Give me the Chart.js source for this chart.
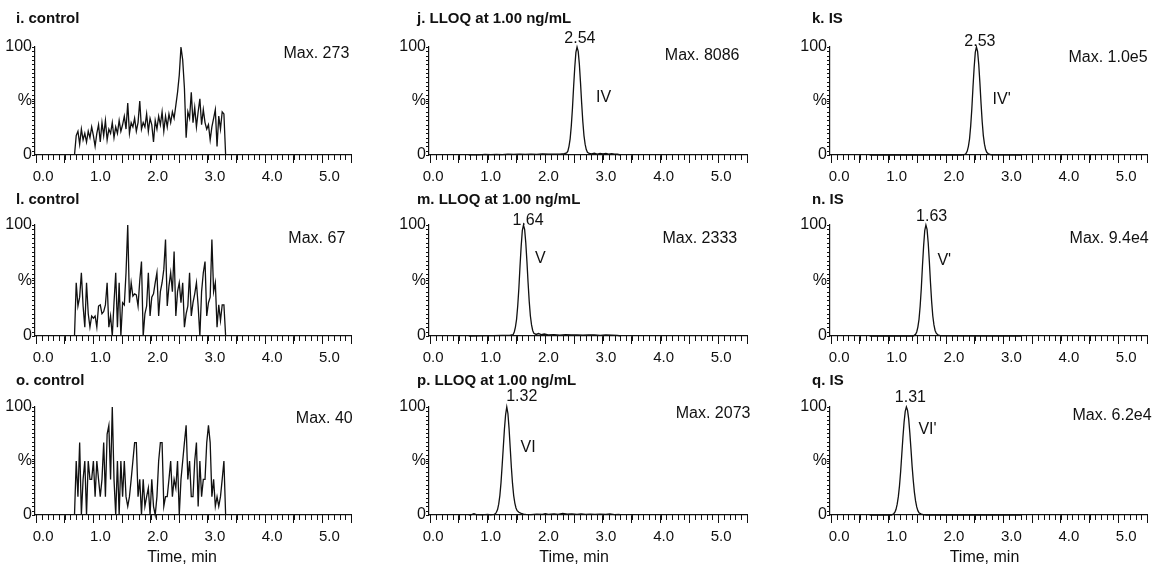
<!DOCTYPE html>
<html>
<head>
<meta charset="utf-8">
<script src="https://cdn.jsdelivr.net/npm/chart.js@4.4.1/dist/chart.umd.min.js"></script>
<style>
  html, body { margin: 0; padding: 0; background: #fff; }
  #wrap { position: relative; width: 1157px; height: 564px; overflow: hidden; background: #fff; }
  #wrap canvas { position: absolute; }
</style>
</head>
<body>
<div id="wrap"></div>
<script>
// --- axis ticks ---
const xMin = -0.02;
const xMax = 5.5;
const xMajorTicks = [0, 0.5, 1, 1.5, 2, 2.5, 3, 3.5, 4, 4.5, 5, 5.5];
const xLabelValues = [0, 1, 2, 3, 4, 5];
const xTickLabels = ["0.0", "1.0", "2.0", "3.0", "4.0", "5.0"];
const xMinorStep = 0.1;
const yTickValues = [0, 50, 100];
const yTickLabels = ["0", "%", "100"];
const yMinorStep = 4;

// --- control traces (sampled every noiseStep min from noiseStart) ---
const noiseStart = 0.67;
const noiseStep = 0.03;

const iSignal = [0, 18, 22, 10, 24, 14, 20, 12, 22, 16,
  26, 18, 8, 20, 28, 12, 30, 18, 32, 14,
  24, 20, 30, 16, 26, 20, 32, 22, 28, 36,
  24, 48, 20, 30, 26, 34, 22, 30, 50, 24,
  30, 26, 38, 22, 34, 28, 12, 32, 24, 36,
  28, 40, 22, 36, 26, 38, 30, 40, 34, 46,
  58, 74, 100, 88, 62, 16, 40, 34, 58, 30,
  44, 26, 40, 52, 28, 42, 30, 24, 28, 14,
  26, 34, 42, 8, 36, 24, 40, 38, 0];

const lSignal = [0, 48, 27, 35, 57, 27, 8, 48, 20, 8,
  18, 16, 18, 8, 27, 28, 20, 22, 28, 48,
  8, 18, 0, 30, 57, 8, 48, 0, 30, 28,
  57, 100, 30, 48, 36, 38, 37, 27, 50, 67,
  0, 20, 27, 57, 18, 35, 38, 48, 57, 18,
  40, 48, 60, 87, 27, 45, 57, 40, 76, 18,
  40, 48, 30, 48, 8, 20, 27, 57, 18, 30,
  38, 48, 27, 0, 40, 57, 67, 18, 30, 35,
  87, 40, 48, 8, 28, 14, 28, 28, 0];

const oSignal = [0, 50, 17, 67, 0, 33, 50, 0, 50, 33,
  33, 50, 17, 50, 33, 17, 33, 67, 17, 75,
  83, 33, 100, 33, 0, 50, 0, 50, 17, 50,
  17, 8, 17, 33, 50, 67, 67, 17, 33, 0,
  33, 8, 17, 25, 0, 33, 8, 0, 17, 50,
  67, 67, 8, 17, 17, 33, 50, 17, 33, 25,
  50, 0, 33, 50, 67, 83, 33, 50, 17, 17,
  50, 67, 8, 50, 17, 33, 33, 67, 83, 67,
  17, 33, 8, 17, 8, 17, 33, 50, 0];

// --- analyte / IS traces ---
const jTime = [0.67, 0.75, 0.85, 0.95, 1.05, 1.15, 1.25, 1.35, 1.45, 1.55,
  1.65, 1.75, 1.85, 1.95, 2.05, 2.15, 2.25, 2.33, 2.37, 2.39,
  2.41, 2.43, 2.45, 2.47, 2.49, 2.51, 2.53, 2.55, 2.57, 2.59,
  2.61, 2.63, 2.65, 2.67, 2.69, 2.71, 2.73, 2.76, 2.80, 2.85,
  2.90, 2.95, 3.00, 3.05, 3.10, 3.15, 3.20, 3.25, 3.31];
const jSignal = [0, 0.4, 0.2, 0.5, 0.3, 0.6, 0.4, 0.7, 0.5, 0.8,
  0.6, 0.9, 0.6, 1.0, 0.7, 0.9, 0.8, 1.2, 2.0, 3.6,
  8, 15, 27, 43, 63, 81, 95, 100, 96, 84,
  67, 48, 31, 18, 10, 5, 2.5, 1.4, 1.0, 1.6,
  0.9, 1.5, 1.1, 1.4, 0.8, 1.3, 0.9, 0.7, 0];

const kTime = [0.67, 2.27, 2.33, 2.35, 2.37, 2.39, 2.41, 2.43, 2.45, 2.47,
  2.49, 2.51, 2.53, 2.55, 2.57, 2.59, 2.61, 2.63, 2.65, 2.67,
  2.69, 2.71, 2.74, 2.79, 3.31];
const kSignal = [0, 0, 0.6, 1.5, 3.6, 8, 15, 27, 43, 63,
  81, 95, 100, 96, 84, 67, 48, 31, 18, 10,
  5, 2.5, 1, 0.2, 0];

const mTime = [0.67, 0.80, 0.95, 1.10, 1.25, 1.38, 1.44, 1.46, 1.48, 1.50,
  1.52, 1.54, 1.56, 1.58, 1.60, 1.62, 1.64, 1.66, 1.68, 1.70,
  1.72, 1.74, 1.76, 1.78, 1.80, 1.84, 1.88, 1.93, 1.98, 2.05,
  2.15, 2.25, 2.35, 2.45, 2.55, 2.65, 2.75, 2.85, 2.95, 3.05,
  3.15, 3.25, 3.31];
const mSignal = [0, 0.2, 0.4, 0.3, 0.5, 0.5, 1.2, 3.6, 8, 15,
  27, 43, 63, 81, 95, 100, 96, 84, 67, 48,
  31, 18, 10, 5, 2.5, 1.4, 2.2, 1.3, 1.8, 1.0,
  1.3, 0.8, 1.2, 0.9, 1.1, 0.7, 0.9, 1.0, 0.6, 0.9,
  0.7, 0.5, 0];

const nTime = [0.67, 1.43, 1.47, 1.49, 1.51, 1.53, 1.55, 1.57, 1.59, 1.61,
  1.63, 1.65, 1.67, 1.69, 1.71, 1.73, 1.75, 1.77, 1.79, 1.81,
  1.83, 1.86, 1.91, 3.31];
const nSignal = [0, 0, 1.5, 3.6, 8, 15, 27, 43, 63, 81,
  95, 100, 96, 84, 67, 48, 31, 18, 10, 5,
  2.5, 1, 0.2, 0];

const pTime = [0.67, 0.72, 0.76, 0.80, 0.90, 1.00, 1.05, 1.11, 1.13, 1.15,
  1.17, 1.19, 1.21, 1.23, 1.25, 1.27, 1.29, 1.31, 1.33, 1.35,
  1.37, 1.39, 1.41, 1.43, 1.45, 1.47, 1.49, 1.51, 1.54, 1.58,
  1.62, 1.66, 1.75, 1.85, 1.95, 2.00, 2.05, 2.15, 2.22, 2.30,
  2.38, 2.46, 2.55, 2.62, 2.70, 2.78, 2.86, 2.95, 3.05, 3.12,
  3.20, 3.28, 3.31];
const pSignal = [0, 0.3, 1.2, 0.3, 0.2, 0.6, 0.2, 0.5, 1, 2.5,
  5, 10, 18, 30, 46, 63, 80, 93, 100, 94,
  80, 62, 44, 29, 18, 11, 6.5, 4, 2.5, 1.5,
  0.8, 0.6, 0.4, 0.8, 0.5, 1.2, 0.6, 1.0, 0.5, 1.5,
  0.7, 1.0, 0.6, 1.1, 0.5, 0.9, 0.6, 0.9, 0.5, 1.0,
  0.4, 0.6, 0];

const qTime = [0.67, 1.05, 1.09, 1.11, 1.13, 1.15, 1.17, 1.19, 1.21, 1.23,
  1.25, 1.27, 1.29, 1.31, 1.33, 1.35, 1.37, 1.39, 1.41, 1.43,
  1.45, 1.47, 1.49, 1.51, 1.53, 1.56, 1.60, 1.66, 3.31];
const qSignal = [0, 0, 1.2, 2.6, 5.3, 10, 17, 27, 40, 56,
  72, 86, 96, 100, 97, 89, 76, 61, 45, 32,
  21, 13, 7.5, 4, 2, 1, 0.3, 0, 0];

const noiseTime = (sig) => sig.map((_, k) => noiseStart + k * noiseStep);

// --- layout of the 3x3 grid (page pixels) ---
const cols = [
  { left: 0, width: 385, axis: 35, right: 351, titleX: 16, axisTitleAt: 2.55, labelShift: 7 },
  { left: 385, width: 390, axis: 429, right: 747, titleX: 417, axisTitleAt: 2.50, labelShift: 3 },
  { left: 775, width: 382, axis: 830, right: 1147, titleX: 812, axisTitleAt: 2.67, labelShift: 8 },
];
const rows = [
  { top: 0, height: 187, plotTop: 47, plotBottom: 155, titleY: 19 },
  { top: 187, height: 181, plotTop: 225, plotBottom: 336, titleY: 200 },
  { top: 368, height: 198, plotTop: 407, plotBottom: 515, titleY: 381, axisTitleY: 558 },
];

const panels = [
  { title: "i. control", col: 0, row: 0, time: noiseTime(iSignal), signal: iSignal, max: "Max. 273", maxAt: [5.47, 94] },
  { title: "j. LLOQ at 1.00 ng/mL", col: 1, row: 0, time: jTime, signal: jSignal, max: "Max. 8086", maxAt: [5.37, 92], rt: "2.54", rtAt: [2.60, 108], cpd: "IV", cpdAt: [2.88, 53] },
  { title: "k. IS", col: 2, row: 0, time: kTime, signal: kSignal, max: "Max. 1.0e5", maxAt: [5.51, 90], rt: "2.53", rtAt: [2.59, 105], cpd: "IV'", cpdAt: [2.81, 51] },
  { title: "l. control", col: 0, row: 1, time: noiseTime(lSignal), signal: lSignal, max: "Max. 67", maxAt: [5.40, 88] },
  { title: "m. LLOQ at 1.00 ng/mL", col: 1, row: 1, time: mTime, signal: mSignal, max: "Max. 2333", maxAt: [5.33, 88], rt: "1.64", rtAt: [1.70, 104], cpd: "V", cpdAt: [1.82, 70] },
  { title: "n. IS", col: 2, row: 1, time: nTime, signal: nSignal, max: "Max. 9.4e4", maxAt: [5.53, 88], rt: "1.63", rtAt: [1.75, 108], cpd: "V'", cpdAt: [1.85, 68] },
  { title: "o. control", col: 0, row: 2, time: noiseTime(oSignal), signal: oSignal, max: "Max. 40", maxAt: [5.53, 89] },
  { title: "p. LLOQ at 1.00 ng/mL", col: 1, row: 2, time: pTime, signal: pSignal, max: "Max. 2073", maxAt: [5.56, 93.5], rt: "1.32", rtAt: [1.59, 110], cpd: "VI", cpdAt: [1.57, 62] },
  { title: "q. IS", col: 2, row: 2, time: qTime, signal: qSignal, max: "Max. 6.2e4", maxAt: [5.58, 92], rt: "1.31", rtAt: [1.38, 109], cpd: "VI'", cpdAt: [1.52, 79] },
];

const ink = "#111";
const family = "'Liberation Sans', Arial, Helvetica, sans-serif";

// short minor ticks under the x axis and left of the y axis
const minorTicks = {
  id: "minorTicks",
  afterDraw(chart) {
    const { ctx, chartArea: a, scales: { x, y } } = chart;
    ctx.save();
    ctx.strokeStyle = ink;
    ctx.lineWidth = 1;
    ctx.beginPath();
    for (let k = 0; k * xMinorStep <= xMax + 1e-9; k++) {
      const px = Math.round(x.getPixelForValue(k * xMinorStep)) + 0.5;
      ctx.moveTo(px, a.bottom);
      ctx.lineTo(px, a.bottom + 5);
    }
    for (let k = 0; k * yMinorStep <= 100; k++) {
      const py = Math.round(y.getPixelForValue(k * yMinorStep)) + 0.5;
      ctx.moveTo(a.left, py);
      ctx.lineTo(a.left - 3, py);
    }
    ctx.stroke();
    ctx.restore();
  },
};

function panelText(p, c, r) {
  return {
    id: "panelText",
    afterDraw(chart) {
      const { ctx, scales: { x, y } } = chart;
      ctx.save();
      ctx.fillStyle = ink;
      ctx.textBaseline = "middle";
      ctx.textAlign = "left";
      ctx.font = "bold 15px " + family;
      ctx.fillText(p.title, c.titleX - c.left, r.titleY - r.top);

      ctx.font = "16px " + family;
      ctx.textAlign = "right";
      ctx.fillText(p.max, x.getPixelForValue(p.maxAt[0]), y.getPixelForValue(p.maxAt[1]));
      if (p.rt) {
        ctx.textAlign = "center";
        ctx.fillText(p.rt, x.getPixelForValue(p.rtAt[0]), y.getPixelForValue(p.rtAt[1]));
      }
      if (p.cpd) {
        ctx.textAlign = "left";
        ctx.fillText(p.cpd, x.getPixelForValue(p.cpdAt[0]), y.getPixelForValue(p.cpdAt[1]));
      }
      if (r.axisTitleY) {
        ctx.textAlign = "center";
        ctx.fillText("Time, min", x.getPixelForValue(c.axisTitleAt), r.axisTitleY - r.top);
      }
      ctx.restore();
    },
  };
}

const wrap = document.getElementById("wrap");

panels.forEach((p) => {
  const c = cols[p.col];
  const r = rows[p.row];
  const canvas = document.createElement("canvas");
  canvas.width = c.width;
  canvas.height = r.height;
  canvas.style.left = c.left + "px";
  canvas.style.top = r.top + "px";
  wrap.appendChild(canvas);

  new Chart(canvas, {
    type: "line",
    data: {
      datasets: [{
        data: p.time.map((t, k) => ({ x: t, y: p.signal[k] })),
        borderColor: ink,
        borderWidth: 1.3,
        pointRadius: 0,
        tension: 0,
        fill: false,
        clip: false,
      }],
    },
    options: {
      responsive: false,
      animation: false,
      events: [],
      layout: {
        padding: { left: 0, top: r.plotTop - r.top, right: c.left + c.width - c.right, bottom: 0 },
      },
      plugins: { legend: { display: false }, tooltip: { enabled: false } },
      scales: {
        x: {
          type: "linear",
          min: xMin,
          max: xMax,
          afterBuildTicks: (s) => { s.ticks = xMajorTicks.map((v) => ({ value: v })); },
          afterFit: (s) => { s.height = r.top + r.height - r.plotBottom; },
          border: { color: ink, width: 1.2 },
          grid: { drawOnChartArea: false, tickLength: 8, color: ink, lineWidth: 1 },
          ticks: {
            autoSkip: false,
            maxRotation: 0,
            padding: 5,
            labelOffset: c.labelShift,
            color: ink,
            font: { family, size: 15 },
            callback: (v) => {
              const i = xLabelValues.indexOf(v);
              return i >= 0 ? xTickLabels[i] : "";
            },
          },
        },
        y: {
          type: "linear",
          min: 0,
          max: 100,
          afterBuildTicks: (s) => { s.ticks = yTickValues.map((v) => ({ value: v })); },
          afterFit: (s) => { s.width = c.axis - c.left; },
          border: { color: ink, width: 1.2 },
          grid: { drawOnChartArea: false, tickLength: 3, color: ink, lineWidth: 1 },
          ticks: {
            padding: 0,
            color: ink,
            font: { family, size: 16 },
            callback: (v) => yTickLabels[yTickValues.indexOf(v)],
          },
        },
      },
    },
    plugins: [minorTicks, panelText(p, c, r)],
  });
});
</script>
</body>
</html>
